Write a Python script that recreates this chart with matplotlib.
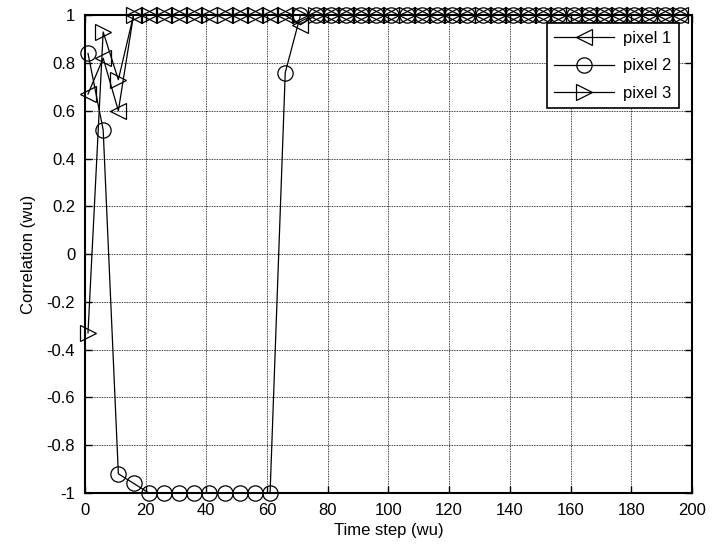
import numpy as np
import matplotlib
matplotlib.use('Agg')
import matplotlib.pyplot as plt
from matplotlib.ticker import FuncFormatter

plt.rcParams['font.family'] = ['Liberation Sans', 'DejaVu Sans']
plt.rcParams['font.size'] = 12

# sampled every 5 steps
time_step = np.arange(1, 200, 5)

pixel_1 = [0.67, 0.82, 0.60, 1, 1, 1, 1, 1, 1, 1,
           1, 1, 1, 1, 0.96, 1, 1, 1, 1, 1,
           1, 1, 1, 1, 1, 1, 1, 1, 1, 1,
           1, 1, 1, 1, 1, 1, 1, 1, 1, 1]
pixel_2 = [0.84, 0.52, -0.92, -0.96, -1, -1, -1, -1, -1, -1,
           -1, -1, -1, 0.76, 1, 1, 1, 1, 1, 1,
           1, 1, 1, 1, 1, 1, 1, 1, 1, 1,
           1, 1, 1, 1, 1, 1, 1, 1, 1, 1]
pixel_3 = [-0.33, 0.93, 0.73, 1, 1, 1, 1, 1, 1, 1,
           1, 1, 1, 1, 1, 1, 1, 1, 1, 1,
           1, 1, 1, 1, 1, 1, 1, 1, 1, 1,
           1, 1, 1, 1, 1, 1, 1, 1, 1, 1]

series = [('pixel 1', pixel_1, '<', 12), ('pixel 2', pixel_2, 'o', 11), ('pixel 3', pixel_3, '>', 12)]

fig = plt.figure(figsize=(7.2, 5.44), dpi=100)
ax = fig.add_axes([0.118, 0.094, 0.843, 0.878])

for name, vals, mk, ms in series:
    ax.plot(time_step, vals, color='black', linewidth=0.9, marker=mk, markersize=ms,
            markerfacecolor='none', markeredgecolor='black', markeredgewidth=0.9,
            label=name, clip_on=False)

ax.set_xlim(0, 200)
ax.set_ylim(-1, 1)
ax.set_xticks(np.arange(0, 201, 20))
ax.set_yticks(np.linspace(-1, 1, 11))
ax.yaxis.set_major_formatter(FuncFormatter(lambda v, p: '%g' % round(v, 1)))

ax.grid(True, color='black', linestyle=(0, (1, 1)), linewidth=0.6)
ax.set_axisbelow(True)
ax.tick_params(direction='in', length=5, top=True, right=True, width=1, pad=7)
for s in ax.spines.values():
    s.set_linewidth(1.5)

ax.set_xlabel('Time step (wu)', labelpad=4)
ax.set_ylabel('Correlation (wu)', labelpad=8)

leg = ax.legend(loc='upper right', bbox_to_anchor=(0.978, 0.983), borderaxespad=0,
                fancybox=False, framealpha=1, edgecolor='black',
                handlelength=3.6, labelspacing=0.75, handletextpad=0.5, borderpad=0.45)
leg.get_frame().set_linewidth(1.2)

plt.savefig('out.png', dpi=100)
plt.close()
